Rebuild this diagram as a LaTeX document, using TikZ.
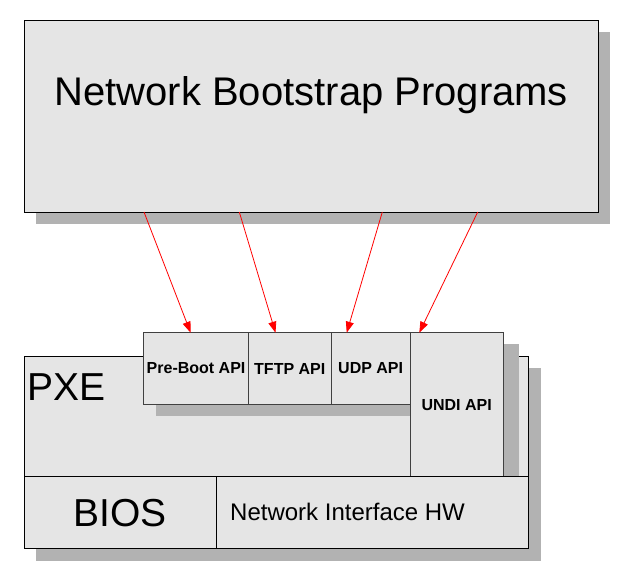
\documentclass[tikz,border=0pt]{standalone}
\usepackage{fontspec}
\setmainfont{Liberation Sans}
\usetikzlibrary{shadows,arrows.meta}
\definecolor{boxgray}{HTML}{E5E5E5}
\definecolor{shadowgray}{HTML}{B2B2B2}

\begin{document}
\begin{tikzpicture}[x=1pt, y=-1pt,
    layer/.style={rectangle, draw=black, line width=0.9pt, fill=boxgray, anchor=north west, inner sep=0pt, outer sep=0pt,
        drop shadow={shadow xshift=12pt, shadow yshift=-12pt, fill=shadowgray, opacity=1}},
    api/.style={layer, draw=black!75, minimum height=71.6pt, font=\fontsize{16}{19}\selectfont\bfseries},
    big/.style={font=\fontsize{39}{47}\selectfont, inner sep=0pt},
    call/.style={draw=red, line width=0.8pt, -{Triangle[length=11pt, width=8pt]}}
]
\useasboundingbox (0,0) rectangle (634,588);

% Programs on top
\node[layer, minimum width=574pt, minimum height=191.7pt] (nbp) at (24.3,20.3) {};
\node[big, font=\fontsize{40}{48}\selectfont, anchor=base] (nbptitle) at ([yshift=-85.7pt]nbp.north) {Network Bootstrap Programs};

% PXE layer
\node[layer, minimum width=504.4pt, minimum height=120.2pt] (pxe) at (24.3,356.3) {};
\node[big, anchor=base west] (pxetitle) at ([xshift=2.7pt, yshift=-43.7pt]pxe.north west) {PXE};

% APIs
\node[api, minimum width=104.9pt] (preboot) at (143.6,332.7) {Pre-Boot API};
\node[api, minimum width=82.5pt] (tftp) at (preboot.north east) {TFTP API};
\node[api, minimum width=79.3pt] (udp) at (tftp.north east) {UDP API};
\node[api, minimum width=92.7pt, minimum height=143.8pt,
    drop shadow={shadow xshift=16pt, shadow yshift=-11.3pt, fill=shadowgray, opacity=1}] (undi) at (udp.north east) {UNDI API};

% BIOS and hardware
\node[layer, big, minimum width=191.7pt, minimum height=72.2pt] (bios) at (pxe.south west) {BIOS};
\node[layer, minimum width=312.7pt, minimum height=72.2pt] (nic) at (bios.north east) {};
\node[font=\fontsize{24}{29}\selectfont, anchor=base west, inner sep=0pt] (nictext) at ([xshift=14pt, yshift=-7.4pt]nic.west) {Network Interface HW};

% Calls
\draw[call] ([xshift=119.7pt]nbp.south west) -- ([xshift=47pt]preboot.north west);
\draw[call] ([xshift=215pt]nbp.south west) -- ([xshift=27pt]tftp.north west);
\draw[call] ([xshift=358pt]nbp.south west) -- ([xshift=15.7pt]udp.north west);
\draw[call] ([xshift=453.4pt]nbp.south west) -- ([xshift=9pt]undi.north west);
\end{tikzpicture}
\end{document}
